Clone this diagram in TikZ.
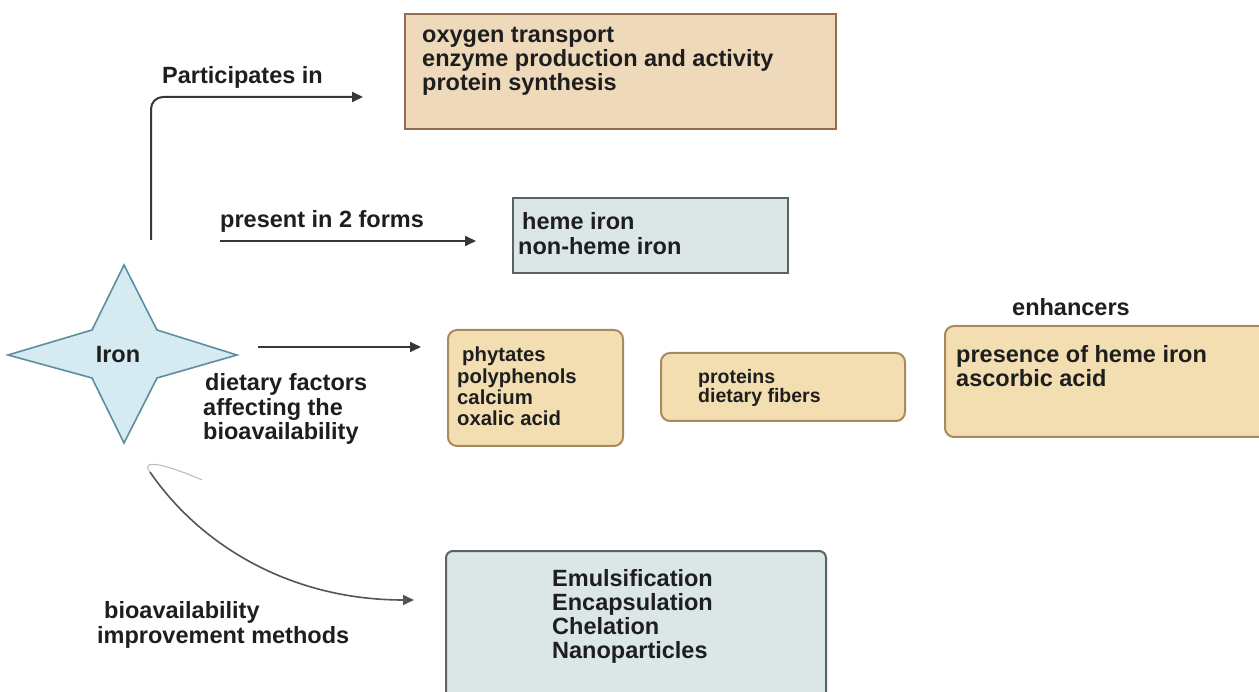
\documentclass[tikz,border=0pt]{standalone}
\usepackage{fontspec}
\setmainfont{Liberation Sans}
\usetikzlibrary{arrows.meta}

\definecolor{tanfill}{RGB}{238,217,187}
\definecolor{tanline}{RGB}{150,108,78}
\definecolor{slatefill}{RGB}{219,231,231}
\definecolor{slateline}{RGB}{88,100,100}
\definecolor{starfill}{RGB}{214,234,242}
\definecolor{starline}{RGB}{92,142,160}
\definecolor{sandfill}{RGB}{243,222,178}
\definecolor{sandline}{RGB}{168,138,92}
\definecolor{ink}{RGB}{30,30,30}
\definecolor{arrowink}{RGB}{55,55,55}

% multi-line texts are anchored at the baseline of their last line
\tikzset{
  lbl/.style={inner sep=0pt, anchor=base west, align=left, text=ink,
    font=\bfseries\fontsize{23.5}{24}\selectfont},
  small/.style={lbl, font=\bfseries\fontsize{20.3}{21}\selectfont},
  tiny/.style={lbl, font=\bfseries\fontsize{19.5}{19}\selectfont},
  tanbox/.style={draw=tanline, fill=tanfill, line width=2pt},
  slatebox/.style={draw=slateline, fill=slatefill, line width=2pt},
  sandbox/.style={draw=sandline, fill=sandfill, line width=2pt, rounded corners=9pt},
  flow/.style={draw=arrowink, line width=2pt, -{Triangle[length=11pt,width=10pt]}},
}

\begin{document}
\begin{tikzpicture}[x=1pt,y=-1pt]
\useasboundingbox (0,0) rectangle (1259,692);

% ---- boxes ----
\path[tanbox] (405,14) rectangle (836,129);
\path[slatebox] (513,198) rectangle (788,273);
\path[sandbox] (448,330) rectangle (623,446);
\path[sandbox] (661,353) rectangle (905,421);
\path[sandbox] (945,326) rectangle (1275,437);
\path[slatebox, rounded corners=7pt] (446,551) rectangle (826,705);

% ---- the iron star ----
\path[draw=starline, fill=starfill, line width=1.6pt, line join=miter]
  (124,265) -- (157,330) -- (237,355) -- (157,378) -- (124,443)
  -- (92,378) -- (8,355) -- (92,330) -- cycle;
\node[lbl, anchor=center] (iron) at (118,355) {Iron};

% ---- texts ----
\node[lbl] (functions) at (422,91) {oxygen transport\\enzyme production and activity\\protein synthesis};
\node[lbl] (forms) at (518,255) {\hspace{4pt}heme iron\\[1pt]non-heme iron};
\node[small] (inhibitA) at (457,426) {\hspace{5pt}phytates\\[1pt]polyphenols\\calcium\\oxalic acid};
\node[tiny] (inhibitB) at (698,403) {proteins\\dietary fibers};
\node[lbl] (enhance) at (956,387) {presence of heme iron\\ascorbic acid};
\node[lbl] (methods) at (552,658) {Emulsification\\Encapsulation\\Chelation\\Nanoparticles};

\node[lbl] (participates) at (162,84) {Participates in};
\node[lbl] (present) at (220,228) {present in 2 forms};
\node[lbl] (enhancers) at (1012,316) {enhancers};
\node[lbl] (dietary) at (203,440) {\hspace{2pt}dietary factors\\[0.5pt]affecting the\\[0.5pt]bioavailability};
\node[lbl] (improve) at (97,643) {\hspace{7pt}bioavailability\\[1pt]improvement methods};

% ---- connectors ----
\coordinate (pStart) at (151,240);
\coordinate (pEnd) at (363,97);
\coordinate (fStart) at (220,241);
\coordinate (fEnd) at (476,241);
\coordinate (dStart) at (258,347);
\coordinate (dEnd) at (421,347);
\coordinate (cStart) at (202,480);
\coordinate (cTurn) at (150,472);
\coordinate (cEnd) at (414,600);

\draw[flow, rounded corners=12pt] (pStart) |- (pEnd);
\draw[flow] (fStart) -- (fEnd);
\draw[flow, line width=1.6pt] (dStart) -- (dEnd);
\draw[draw=gray!55, line width=1pt] (cStart) .. controls (175,468) and (138,456) .. (cTurn);
\draw[flow, draw=arrowink!85, line width=1.6pt] (cTurn) .. controls (200,545) and (290,600) .. (cEnd);
\end{tikzpicture}
\end{document}
